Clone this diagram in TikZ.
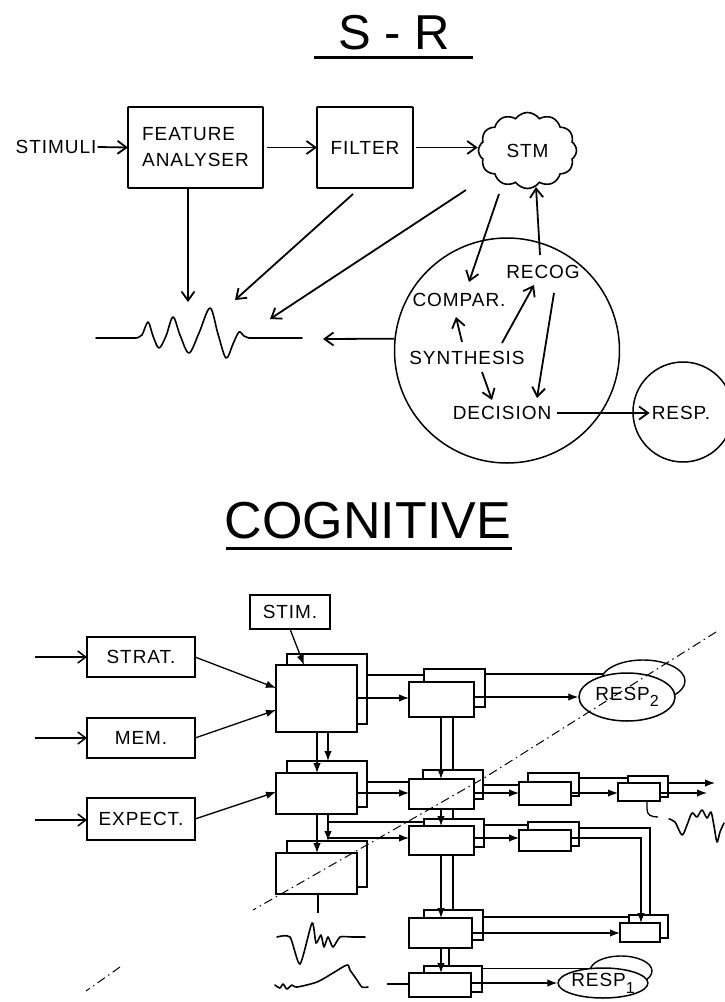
\documentclass[tikz,border=0pt]{standalone}
\usepackage{fontspec}
\setmainfont{Liberation Sans}
\newfontfamily\labfont[LetterSpace=5]{Liberation Sans}
\usetikzlibrary{arrows.meta,shapes.symbols,shapes.geometric,calc}
\pgfdeclarelayer{paper}
\pgfdeclarelayer{backs}
\pgfdeclarelayer{wires}
\pgfdeclarelayer{top}
\pgfsetlayers{paper,backs,wires,main,top}
\newcommand\mkblk[6]{\node[#6, minimum width={(#4)-(#2)}, minimum height={(#5)-(#3)}] (#1) at ({((#2)+(#4))/2},{((#3)+(#5))/2}) {};}
\begin{document}
\begin{tikzpicture}[x=1pt,y=-1pt,
  lab/.style={font=\labfont\fontsize{19}{22}\selectfont, inner sep=1pt},
  sbox/.style={draw, line width=1.9pt, rounded corners=0.8pt, inner sep=0pt, outer sep=0pt},
  blk/.style={draw, line width=1.7pt, fill=white, inner sep=0pt, outer sep=0pt},
  bblk/.style={draw, line width=1.4pt, inner sep=0pt, outer sep=0pt},
  wire/.style={line width=1.3pt},
  sr/.style={line width=1.8pt, -{Straight Barb[length=9pt,width=13pt]}},
  fa/.style={line width=1.3pt, -{Latex[length=10pt,width=7.5pt]}},
  ob/.style={line width=1.5pt, -{Straight Barb[length=8pt,width=12pt]}},
  dashdot/.style={line width=1pt, dash pattern=on 9pt off 4pt on 1.5pt off 4pt},
  wave/.style={line width=1.6pt, line join=round, line cap=round}]
\begin{pgfonlayer}{paper}
\fill[white] (0,0) rectangle (724,1002);
\end{pgfonlayer}
\useasboundingbox (0,0) rectangle (724,1002);

% ---------------- S - R ----------------
\node[font=\fontsize{49}{49}\selectfont, inner sep=0] (t1) at (394.5,33) {S - R};
\draw[line width=3pt] (314,57) -- (473,57);

\node[lab] (stimuli) at (56,147) {STIMULI};
\node[lab, sbox, align=left, font=\labfont\fontsize{19}{26}\selectfont, minimum width=135, minimum height=81] (fa) at (195.5,147.5) {FEATURE\\ANALYSER};
\node[lab, sbox, minimum width=96, minimum height=81] (filter) at (365,147.5) {FILTER};
\node[lab, cloud, cloud puffs=12, cloud puff arc=110, cloud ignores aspect, draw, line width=1.6pt, minimum width=98, minimum height=76, inner sep=0pt] (stm) at (527.5,150.5) {STM};

\draw[sr] (stimuli.east) -- (fa.west);
\draw[sr, shorten <=4pt] (fa.east) -- (filter.west);
\draw[sr, shorten <=3pt] (filter.east) -- (filter.east -| stm.west);

\coordinate (w1) at (188,302);
\coordinate (f1) at (353,194);
\coordinate (w2) at (235,300);
\coordinate (s1) at (466,190);
\coordinate (w3) at (270,319);
\draw[sr] (fa.south -| w1) -- (w1);
\draw[sr] (f1) -- (w2);
\draw[sr] (s1) -- (w3);

\draw[wave] (96,338) -- plot[smooth, tension=0.55] coordinates {(136,338) (142,335) (148,322) (153,336) (159,348) (166,336) (173,317) (180,335) (189,353) (199,333) (210,308) (218,334) (226,358) (233,344) (239,332) (244,336) (249,338)} -- (302,338);

\node[circle, draw, line width=1.5pt, minimum size=225, inner sep=0] (proc) at (507,350.5) {};
\node[lab] (compar) at (459,300) {COMPAR.};
\node[lab] (recog) at (543,272) {RECOG};
\node[lab] (synth) at (467,358) {SYNTHESIS};
\node[lab] (decision) at (502,413) {DECISION};
\node[circle, draw, line width=1.5pt, minimum size=100, inner sep=0] (respc) at (683,412) {};
\node[lab] (resp) at (681,413) {RESP.};

\coordinate (w4) at (323,339);
\draw[sr] (proc.174) -- (w4);

\coordinate (a1s) at (499,194); \coordinate (a1e) at (469,282);
\coordinate (a2s) at (540,255); \coordinate (a2e) at (536,187);
\coordinate (a3s) at (462,342); \coordinate (a3e) at (456,317);
\coordinate (a4s) at (502,343); \coordinate (a4e) at (534,285);
\coordinate (a5s) at (482,372); \coordinate (a5e) at (492,400);
\coordinate (a6s) at (554,293); \coordinate (a6e) at (537,398);
\draw[sr] (a1s) -- (a1e);
\draw[sr] (a2s) -- (a2e);
\draw[sr] (a3s) -- (a3e);
\draw[sr] (a4s) -- (a4e);
\draw[sr] (a5s) -- (a5e);
\draw[sr] (a6s) -- (a6e);
\draw[sr, shorten <=5pt, shorten >=1pt] (decision.east) -- (resp.west);

% ---------------- COGNITIVE ----------------
\node[font=\fontsize{52}{52}\selectfont, inner sep=0] (t2) at (368,521) {COGNITIVE};
\draw[line width=3pt] (226,548) -- (512,548);

\node[lab, blk, minimum width=80, minimum height=34] (stim) at (290,612) {STIM.};
\node[lab, blk, minimum width=108, minimum height=40] (strat) at (141,657) {STRAT.};
\node[lab, blk, minimum width=108, minimum height=40] (mem) at (141,738) {MEM.};
\node[lab, blk, minimum width=108, minimum height=42] (expect) at (141,819) {EXPECT.};

\begin{pgfonlayer}{backs}
\mkblk{B1b}{287}{654}{367}{724}{bblk}
\mkblk{B2b}{287}{761}{367}{807}{bblk}
\mkblk{B3b}{287}{841}{367}{887}{bblk}
\mkblk{C1b}{424}{669}{485}{707}{bblk}
\mkblk{C2b}{423}{770}{483}{799}{bblk}
\mkblk{C3b}{424}{819}{484}{847}{bblk}
\mkblk{C4b}{424}{910}{483}{940}{bblk}
\mkblk{C5b}{424}{966}{482}{992}{bblk}
\mkblk{D2b}{528}{773}{579}{796}{bblk}
\mkblk{D3b}{528}{822}{579}{846}{bblk}
\mkblk{E2b}{628}{776}{668}{797}{bblk}
\mkblk{E4b}{629}{915}{668}{938}{bblk}
\node[ellipse, draw, line width=1.4pt, minimum width=84, minimum height=42, inner sep=0] (r2b) at (643,681) {};
\node[ellipse, draw, line width=1.4pt, minimum width=62, minimum height=30, inner sep=0] (r1b) at (621,971) {};
\end{pgfonlayer}

\mkblk{B1f}{276}{665}{357}{732}{blk}
\mkblk{B2f}{276}{773}{357}{814}{blk}
\mkblk{B3f}{276}{853}{357}{894}{blk}
\mkblk{C1f}{409}{682}{474}{717}{blk}
\mkblk{C2f}{409}{779}{474}{809}{blk}
\mkblk{C3f}{409}{826}{474}{855}{blk}
\mkblk{C4f}{409}{918}{472}{948}{blk}
\mkblk{C5f}{409}{973}{471}{997}{blk}
\mkblk{D2f}{519}{782}{571}{805}{blk}
\mkblk{D3f}{519}{830}{571}{851}{blk}
\mkblk{E2f}{618}{783}{660}{801}{blk}
\mkblk{E4f}{620}{923}{660}{942}{blk}
\node[lab, ellipse, draw, fill=white, line width=1.5pt, minimum width=96, minimum height=48, inner sep=0] (r2) at (627,697) {RESP\raisebox{-6pt}{\fontsize{16}{16}\selectfont 2}};
\node[lab, ellipse, draw, fill=white, line width=1.5pt, minimum width=84, minimum height=30, inner sep=0] (r1) at (603,983) {RESP\raisebox{-7pt}{\fontsize{16}{16}\selectfont 1}};

\begin{pgfonlayer}{wires}
\coordinate (in1) at (35,657);
\coordinate (in2) at (35,738);
\coordinate (in3) at (35,820);
\draw[ob] (in1) -- (strat.west);
\draw[ob] (in2) -- (mem.west);
\draw[ob] (in3) -- (expect.west |- in3);
\draw[fa] (strat.east) -- (B1f.west |- 0,688);
\draw[fa] (mem.east) -- (B1f.west |- 0,710);
\draw[fa] (expect.east) -- (B2f.west |- 0,792);
\draw[fa] (stim.south) -- (B1f.north -| 304,0);
% B column
\draw[fa] (B1f.south -| 317,0) -- (B2f.north -| 317,0);
\draw[fa] (B1f.south -| 328,0) -- (B2b.north -| 328,0);
\draw[fa] (B2f.south -| 317,0) -- (B3f.north -| 317,0);
\draw[fa] (B2f.south -| 328,0) -- (B3b.north -| 328,0);
% B -> C
\draw[wire] (B1b.east |- 0,675) -- (C1b.west |- 0,675);
\draw[fa] (B1f.east |- 0,698) -- (C1f.west |- 0,698);
\draw[wire] (B2b.east |- 0,782) -- (C2f.west |- 0,782);
\draw[fa] (B2f.east |- 0,793) -- (C2f.west |- 0,793);
\draw[wire] (B2f.south -| 328,0) |- (C3b.west |- 0,822);
\draw[fa] (B2f.south -| 328,0) |- (C3f.west |- 0,838);
% C column
\draw[fa] (C1f.south -| 441,0) -- (C2f.north -| 441,0);
\draw[wire] (C1f.south -| 453,0) -- (C2b.north -| 453,0);
\draw[fa] (C2f.south -| 441,0) -- (C3f.north -| 441,0);
\draw[wire] (C2f.south -| 453,0) -- (C3b.north -| 453,0);
\draw[fa] (C3f.south -| 441,0) -- (C4f.north -| 441,0);
\draw[wire] (C3f.south -| 453,0) -- (C4b.north -| 453,0);
\draw[fa] (C4f.south -| 441,0) -- (C5f.north -| 441,0);
\draw[wire] (C4f.south -| 449,0) -- (C5b.north -| 449,0);
% C1 -> RESP2
\draw[wire] (C1b.east |- r2b.170) -- (r2b.170);
\draw[fa] (C1f.east |- r2.west) -- (r2.west);
% C2 -> D2 -> E2
\draw[wire] (C2b.east |- 0,785) -- (D2f.west |- 0,785);
\draw[fa] (C2f.east |- 0,793) -- (D2f.west |- 0,793);
\draw[wire] (D2b.east |- 0,778) -- (E2b.west |- 0,778);
\draw[fa] (D2f.east |- 0,793) -- (E2f.west |- 0,793);
\coordinate (o1) at (715,783);
\coordinate (o2) at (707,793);
\draw[fa] (E2b.east |- o1) -- (o1);
\draw[fa] (E2f.east |- o2) -- (o2);
% C3 -> D3 -> E4
\draw[wire] (C3b.east |- 0,825) -- (D3b.west |- 0,825);
\draw[fa] (C3f.east |- 0,838) -- (D3f.west |- 0,838);
\draw[wire] (D3b.east |- 0,828) -| (E4b.north -| 650,0);
\draw[fa] (D3f.east |- 0,838) -| (E4f.north -| 641,0);
% C4 -> E4
\draw[wire] (C4b.east |- 0,917) -- (E4b.west |- 0,917);
\draw[fa] (C4f.east |- 0,933) -- (E4f.west |- 0,933);
% C5 -> RESP1
\draw[wire] (C5b.east |- r1b.176) -- (r1b.176);
\draw[fa] (C5f.east |- r1.west) -- (r1.west);
\coordinate (in5) at (387,984);
\draw[wire] (in5) -- (C5f.west |- in5);
% traces
\coordinate (e2t) at (658,817);
\draw[wire] (E2f.south -| 647,0) -- (647,809) .. controls (647,815) and (651,817) .. (e2t);
\coordinate (b3t) at (318,913);
\draw[wire] (B3f.south -| b3t) -- (b3t);
\end{pgfonlayer}

\draw[wave] plot[smooth, tension=0.5] coordinates {(669,819) (675,822) (682,835) (687,825) (692,813) (697,817) (702,810) (707,818) (711,812) (714,826) (717,842) (720,832) (724,823)};
\draw[wave] plot[smooth, tension=0.4] coordinates {(277,937) (290,937) (300,964) (312,923) (316,943) (321,935) (324,947) (328,937) (333,947) (340,937) (352,937) (365,937)};
\draw[wave] plot[smooth, tension=0.5] coordinates {(275,985) (280,988) (283,984) (287,989) (292,985) (297,987) (317,982) (333,973) (347,965) (350,970) (357,980) (362,987) (368,987)};

\begin{pgfonlayer}{top}
\coordinate (d1) at (716,632);
\coordinate (d2) at (484,778);
\coordinate (d3) at (253,910);
\coordinate (d4) at (120,967);
\coordinate (d5) at (86,991);
\draw[dashdot] (d1) -- (d2) -- (d3);
\draw[dashdot] (d4) -- (d5);
\end{pgfonlayer}
\end{tikzpicture}
\end{document}
